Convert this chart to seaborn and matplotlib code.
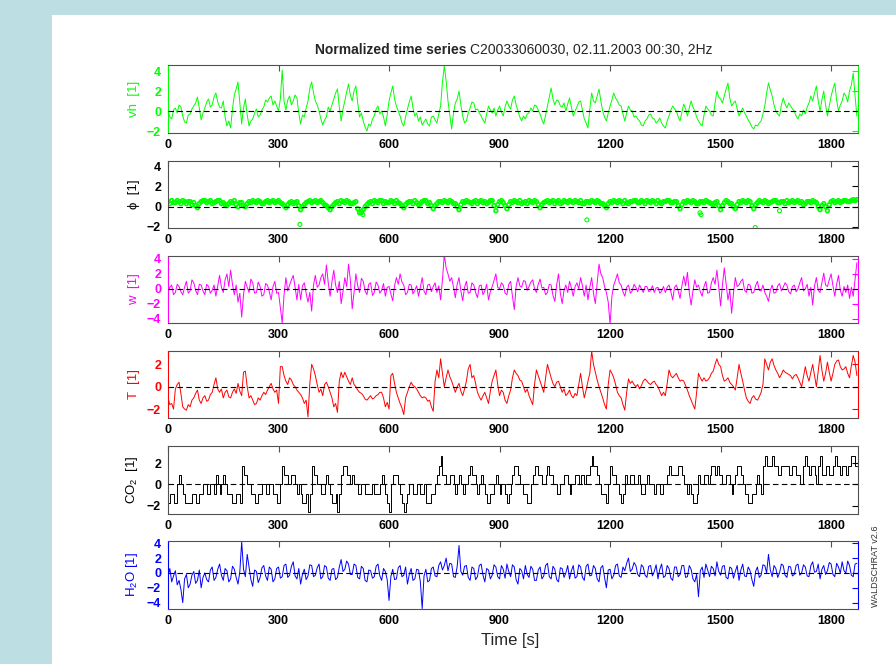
#!/usr/bin/env python
"""
Normalized time series panels (vh, phi, w, T, CO2, H2O) over a 30 min run.
Values read off the reference picture, one value every 5 s.
"""
# %% import packages
import matplotlib.pyplot as plt
import matplotlib.patches as mpatches
import numpy as np
import seaborn as sns

# %% data (5 s step, one row = 100 s)
t_step = 5

vh = [0.0, -0.6, -0.8, 0.1, 0.3, -0.2, 0.6, 0.4, -0.5, -1.1, -1.2, -0.4, -0.3, 0.2, 0.5, 0.8, 1.4, 0.3, -0.9, -0.2,
      0.3, 0.9, 1.2, 0.4, 0.6, 1.4, 1.8, 0.9, 0.4, 0.3, 1.0, -0.6, -1.5, -1.0, -1.7, 0.2, 1.6, 2.2, 2.9, 0.8,
      -1.3, 0.3, 1.2, -0.4, -1.5, -1.0, -0.8, -0.2, 0.2, -0.6, -0.4, 0.1, 0.4, 1.1, 0.9, 1.3, 1.5, 0.6, 1.0, 0.5,
      0.0, 1.2, 4.1, 1.0, 0.1, 1.1, 1.5, 0.6, 1.0, 1.6, 1.3, -0.2, -1.3, -0.4, -0.6, 0.3, 1.0, 2.3, 2.9, 1.8,
      1.0, 0.6, 0.0, -0.8, -1.4, -0.9, -0.6, 0.4, 0.0, 0.6, 1.2, 1.8, 2.2, 0.4, -1.0, 0.2, 1.0, 1.9, 2.7, 1.6,
      1.0, 2.0, 2.5, 0.8, -0.6, -0.2, -1.0, -1.6, -2.0, -1.3, -1.5, -0.8, -0.5, 0.2, 0.5, -0.3, 0.0, -0.6, -1.5, -0.4,
      1.0, 1.8, 2.5, 1.2, 0.5, 0.0, -0.5, -1.2, -1.5, -0.6, 0.2, 0.9, 1.5, 0.3, -0.5, -0.2, -1.0, -0.6, -1.4, -1.1,
      -0.8, -1.3, -1.5, -0.6, -0.5, -0.9, -1.2, -0.3, 0.5, 2.9, 4.5, 3.0, 1.0, -0.4, -1.8, -0.2, 0.8, 1.2, 2.0, 0.6,
      -0.5, -1.2, -1.0, -0.2, 0.3, 0.9, 0.8, 0.1, 0.2, -0.2, -0.5, -0.9, -1.2, -0.3, 0.5, 0.1, -0.2, 0.3, -0.5, 0.1,
      0.5, -0.1, -0.5, 0.4, 1.0, 0.5, 0.2, 1.1, 1.5, 0.6, 0.0, -0.6, -1.0, -0.5, -0.8, -0.3, -0.2, 0.3, 0.0, 0.6,
      0.5, 0.1, -0.3, -0.9, -1.3, -0.4, 0.5, 1.4, 2.3, 1.2, 0.6, 1.1, 1.0, 0.5, 0.4, 0.8, 0.0, 0.7, 1.3, 0.4,
      -0.5, 0.0, 0.4, 0.9, 1.0, 0.1, -0.8, -1.2, -1.7, 0.2, 1.8, 1.0, 0.8, 1.5, 2.2, 1.0, 0.0, -0.6, -1.0, -0.2,
      0.5, 1.1, 1.8, 1.3, 1.0, 0.6, 0.5, -0.3, -1.0, -0.2, 0.5, 0.1, 0.0, -0.6, -0.5, -0.8, -1.0, -1.4, -1.5, -1.0,
      -0.8, -0.4, -0.3, -0.7, -0.8, -1.2, -1.0, -0.7, -1.2, -1.5, -1.7, -1.0, -0.5, 0.1, 0.5, 0.2, 0.0, -0.6, -1.0, -0.1,
      0.7, 0.2, -0.5, 0.3, 1.0, 0.4, 0.0, -0.6, -1.0, -1.3, -1.5, -0.4, 0.5, 0.2, 0.0, -0.4, -0.5, 0.8, 2.0, 1.4,
      1.2, 0.8, 1.5, 2.2, 2.8, 1.3, 0.5, 0.8, 1.0, 0.2, -0.5, -0.1, 0.3, -0.2, -0.5, -0.9, -1.2, -1.6, -1.8, -1.4,
      -1.5, -1.2, -1.0, -0.3, 0.5, 1.8, 2.8, 2.1, 1.5, 0.6, 0.0, -0.3, -0.5, 0.6, 1.3, 0.7, 0.3, 0.8, 0.5, 0.2,
      0.0, -0.5, -0.8, -0.3, -0.5, 0.1, -0.3, 0.4, 0.8, 1.5, 1.0, 1.8, 2.5, 1.0, 0.0, 1.1, 2.0, 0.6, -0.5, 0.5,
      1.5, 2.2, 2.8, 1.1, 0.0, 0.6, 1.0, 1.8, 1.5, 0.9, 2.0, 2.6, 3.8, 1.5, -0.5]

phi = [0.5, 0.3, 0.6, 0.4, 0.4, 0.6, 0.5, 0.3, 0.6, 0.5, 0.3, 0.5, 0.5, 0.2, 0.4, 0.1, -0.1, 0.3, 0.5, 0.6,
       0.6, 0.4, 0.5, 0.6, 0.3, 0.4, 0.5, 0.6, 0.6, 0.3, 0.4, 0.2, 0.1, 0.3, 0.5, 0.4, 0.6, 0.2, 0.0, 0.4,
       0.4, 0.1, 0.0, 0.3, 0.5, 0.4, 0.6, 0.5, 0.4, 0.6, 0.5, 0.3, 0.3, 0.5, 0.6, 0.4, 0.5, 0.6, 0.4, 0.5,
       0.6, 0.4, 0.3, 0.1, -0.1, 0.2, 0.4, 0.5, 0.3, 0.4, 0.5, 0.1, -0.3, 0.0, 0.2, 0.4, 0.5, 0.6, 0.4, 0.5,
       0.6, 0.4, 0.5, 0.6, 0.4, 0.2, 0.1, -0.1, -0.3, 0.0, 0.2, 0.4, 0.5, 0.3, 0.6, 0.5, 0.4, 0.6, 0.5, 0.3,
       0.3, 0.4, 0.5, -0.2, -0.6, -0.5, -0.3, 0.0, 0.2, 0.4, 0.5, 0.3, 0.6, 0.5, 0.4, 0.6, 0.6, 0.3, 0.5, 0.4,
       0.4, 0.6, 0.5, 0.3, 0.6, 0.4, 0.3, 0.1, -0.1, 0.2, 0.4, 0.5, 0.5, 0.3, 0.6, 0.4, 0.2, 0.3, 0.5, 0.6,
       0.6, 0.3, 0.4, 0.1, -0.2, 0.1, 0.3, 0.5, 0.5, 0.4, 0.6, 0.5, 0.4, 0.6, 0.5, 0.3, 0.3, 0.0, -0.3, 0.2,
       0.5, 0.4, 0.6, 0.5, 0.4, 0.3, 0.5, 0.6, 0.3, 0.5, 0.6, 0.4, 0.5, 0.3, 0.4, 0.6, 0.6, 0.1, -0.4, 0.2,
       0.5, 0.6, 0.4, 0.1, -0.2, 0.2, 0.5, 0.4, 0.6, 0.5, 0.4, 0.6, 0.3, 0.4, 0.5, 0.3, 0.6, 0.5, 0.4, 0.6,
       0.5, 0.2, -0.1, 0.2, 0.4, 0.5, 0.6, 0.4, 0.5, 0.6, 0.3, 0.5, 0.6, 0.3, 0.4, 0.6, 0.5, 0.4, 0.6, 0.5,
       0.4, 0.6, 0.5, 0.4, 0.6, 0.3, 0.3, 0.5, 0.5, 0.4, 0.6, 0.5, 0.4, 0.6, 0.5, 0.3, 0.3, 0.1, -0.1, 0.3,
       0.5, 0.4, 0.6, 0.5, 0.4, 0.6, 0.5, 0.3, 0.6, 0.4, 0.3, 0.5, 0.5, 0.6, 0.6, 0.4, 0.4, 0.6, 0.5, 0.3,
       0.6, 0.5, 0.4, 0.6, 0.5, 0.3, 0.6, 0.4, 0.3, 0.5, 0.5, 0.6, 0.6, 0.4, 0.4, 0.5, 0.5, 0.1, -0.2, 0.2,
       0.5, 0.4, 0.6, 0.5, 0.4, 0.6, 0.5, 0.3, 0.3, 0.5, 0.5, 0.4, 0.6, 0.5, 0.4, 0.3, 0.2, 0.4, 0.5, 0.1,
       -0.3, 0.1, 0.4, 0.6, 0.5, 0.3, 0.3, 0.0, -0.2, 0.2, 0.5, 0.4, 0.6, 0.5, 0.4, 0.6, 0.5, 0.1, -0.2, 0.2,
       0.4, 0.6, 0.5, 0.4, 0.6, 0.5, 0.3, 0.4, 0.5, 0.6, 0.6, 0.4, 0.4, 0.5, 0.5, 0.3, 0.6, 0.4, 0.5, 0.6,
       0.4, 0.5, 0.6, 0.4, 0.5, 0.2, 0.3, 0.5, 0.5, 0.4, 0.6, 0.5, 0.4, 0.0, -0.3, 0.1, 0.3, 0.0, -0.4, 0.2,
       0.5, 0.6, 0.4, 0.5, 0.6, 0.4, 0.5, 0.6, 0.6, 0.5, 0.5, 0.6, 0.7, 0.6, 0.7]
# single stray phi samples
phi_odd_t = [358, 525, 529, 1137, 1444, 1447, 1594, 1660]
phi_odd = [-1.75, -0.6, -0.8, -1.3, -0.6, -0.8, -2.05, -0.4]

w = [-0.5, 0.2, 0.5, -0.8, -0.5, 0.6, 0.3, -0.4, -0.8, 0.2, 1.0, -0.6, -0.3, 1.2, 0.8, -0.2, -0.8, 0.6, 0.5, -0.3,
     -0.8, 0.6, 0.3, -0.6, -0.2, 0.5, -1.0, 0.4, 1.8, 0.2, -0.5, 1.2, 2.0, 0.3, 2.5, 0.6, -0.8, 0.5, -1.8, -0.6,
     -3.8, -0.8, 1.0, 0.2, -0.5, 1.3, 0.8, -0.6, -0.5, 0.9, 0.3, -1.0, -0.8, 0.7, 0.5, -0.4, -1.5, 0.3, 1.0, -0.6,
     -0.5, -2.5, -4.6, -0.8, 1.5, -0.3, 0.5, 1.2, 1.8, 0.2, -1.5, 0.6, -1.5, 0.4, 0.8, -0.6, -1.8, -0.5, -3.0, 0.5,
     1.8, 0.2, 0.5, 1.5, 2.0, 0.6, 3.2, 0.8, -1.0, 0.9, 2.5, 0.5, -0.5, 1.0, -2.0, -0.4, 1.5, 0.3, 3.3, 1.2,
     -2.7, -0.5, 2.0, 0.4, -0.5, 1.4, 1.0, -0.3, -0.8, 0.6, 0.8, -0.9, -0.5, 0.9, 0.5, -0.6, -0.2, 0.7, -1.0, 0.2,
     0.3, -0.7, -1.6, 0.4, 1.5, 0.6, 2.0, 0.9, 0.5, -0.8, -0.5, 0.6, 0.5, -0.7, -0.2, 0.4, -1.0, 0.2, 1.5, -0.3,
     -0.8, 0.5, 0.6, -0.4, 0.3, 0.8, -0.5, 0.4, -1.5, 1.2, 4.6, 2.8, 2.0, 1.0, 1.5, 0.2, -1.2, 0.6, 1.5, -0.3,
     -1.6, 0.2, 1.0, -0.6, -0.5, 0.8, 0.5, -0.5, -1.2, 0.4, 0.5, -0.8, -0.3, 0.6, -1.5, -0.4, 0.3, 1.1, 2.0, 0.2,
     0.0, 0.8, 0.5, -0.6, -0.8, 0.6, 1.0, -1.0, -2.8, 0.3, 1.5, 0.4, 0.2, 1.1, 1.0, -0.2, 0.3, 0.9, 1.2, 0.0,
     -0.5, 0.6, 1.3, 0.1, 0.2, -0.8, -0.5, 0.6, 0.5, -0.9, -1.7, 0.5, 2.0, -0.6, -2.0, -0.2, 0.5, -0.5, 1.0, 0.1,
     -1.0, 0.3, 0.8, 0.0, 1.5, 0.4, -1.0, 0.5, -1.5, 0.2, 1.5, -0.6, -2.0, 0.8, 3.3, 2.0, 1.5, 0.3, -0.5, -1.8,
     -4.8, -1.0, 0.5, 1.2, 2.0, 0.8, 0.5, -0.4, -1.0, 0.2, 0.5, -0.6, -0.3, 0.6, 0.2, -0.4, 0.5, 0.0, -0.5, 0.3,
     0.3, -0.4, -0.2, 0.4, -0.5, 0.1, 0.2, -0.6, -0.3, 0.3, -0.5, 0.2, 0.5, -0.4, -1.5, 0.2, 0.5, -0.3, -1.3, 0.4,
     1.7, 0.4, 2.2, -0.5, -2.2, -0.3, 1.2, 0.2, 0.5, -0.4, -1.0, 0.3, 1.0, -0.6, -0.5, 0.8, 1.5, 0.6, 2.5, 0.2,
     -2.3, 0.5, 2.8, 0.6, -1.5, -0.2, -3.3, -0.6, 1.5, 0.3, 0.5, 1.0, 1.3, -0.2, -0.5, 0.6, 0.5, -0.6, -0.5, 0.4,
     1.0, -0.2, -0.3, 0.5, -0.5, -1.0, -1.7, -0.2, 0.5, -0.6, -0.5, 0.4, 0.7, -0.3, 0.2, 0.8, 0.5, -0.4, -0.7, 0.3,
     0.5, -0.4, 0.0, 0.8, 1.5, -0.3, 0.0, 0.6, -1.0, 0.2, -2.2, 0.4, 1.5, -0.2, -0.5, 0.8, 2.1, 0.5, 0.3, 1.2,
     2.0, 0.4, -1.0, 0.6, 1.8, -0.2, -1.0, 0.3, -0.5, 0.5, -1.3, 0.2, -1.0, 1.2, 3.5]

temp = [-1.0, -1.6, -1.5, -2.0, -0.2, 0.2, 0.4, -0.6, -1.8, -2.0, -2.1, -1.6, -1.8, -1.2, -1.0, -0.6, -0.3, -1.2, -1.5, -1.0,
        -0.8, -1.3, -1.2, -0.7, -0.5, 0.2, 0.8, -0.2, -0.5, -0.2, -1.0, -0.5, -0.3, -0.9, -1.0, -0.5, -0.2, -0.6, 0.3, -0.4,
        -0.8, 1.3, 1.4, 0.0, -1.0, -0.8, -1.2, -1.6, -1.5, -1.0, -1.2, -0.8, -0.5, -0.7, -0.3, 0.0, 0.3, -0.2, -0.5, -0.3,
        -1.5, 1.8, 1.8, 1.0, 0.5, 0.2, 0.8, 0.6, 0.2, 0.0, -0.3, -0.5, -0.7, -1.0, -1.5, -1.2, -2.7, 0.3, 2.0, 1.6,
        1.0, 0.2, -0.5, -0.2, -0.8, 0.2, 0.4, 0.0, -0.5, -1.0, -1.8, -1.5, -2.3, 0.5, 1.3, 0.8, 1.3, 0.9, 0.5, 0.2,
        0.8, 0.2, 0.0, -0.3, -0.5, -0.6, -0.8, -1.1, -1.2, -1.0, -0.8, -1.1, -1.0, -0.8, -0.7, -0.5, -0.5, -1.0, -1.8, -1.4,
        -2.0, 1.0, 1.2, 0.3, -0.5, -1.0, -1.5, -1.9, -2.5, -1.0, -0.5, 0.0, 0.4, 0.1, 0.0, -0.2, -0.5, -0.8, -1.0, -0.9,
        -1.0, -1.3, -1.2, -1.8, -2.2, 0.5, 1.5, 0.8, 2.5, 1.2, 0.0, 0.8, 1.5, 0.9, 0.5, 0.0, -0.5, 0.0, 0.3, -0.4,
        -0.8, -0.2, 0.5, 1.6, 2.0, 0.8, 1.0, 0.3, -0.5, -0.9, -1.2, -0.8, -0.5, -1.0, -1.5, -0.4, 0.5, 1.0, 1.5, 0.2,
        -0.8, -0.3, -0.5, -1.2, -1.5, -0.8, -0.3, 0.8, 1.5, 1.2, 1.0, 0.6, 0.5, 0.0, -0.5, -0.2, -0.8, -1.2, -1.6, 0.2,
        1.5, 1.0, 0.5, 0.0, -0.5, 0.8, 2.0, 1.4, 0.8, 0.3, 0.0, 0.4, 0.5, 0.0, -0.5, -0.2, -0.8, -0.6, -0.3, -0.8,
        -1.0, -0.6, -0.8, 0.2, 1.2, 0.0, -1.0, -0.3, 0.5, 1.2, 3.2, 2.0, 1.3, 0.6, 0.0, -0.5, -1.0, -1.6, -2.0, 0.2,
        1.5, 1.2, 0.8, 0.2, -0.5, -0.8, -1.0, -1.6, -2.1, -0.5, 0.7, 0.3, 0.5, 0.2, 0.0, 0.2, -0.2, 0.1, 0.5, 0.7,
        0.5, 0.3, 0.2, 0.4, 0.5, 0.2, 0.0, -0.4, -0.8, -0.5, -0.8, 0.3, 1.5, 1.0, 0.8, 1.0, 1.2, 0.8, 0.5, 0.6,
        0.5, 0.1, -0.3, -0.8, -1.2, -1.6, -2.0, -0.5, 1.2, 0.8, 0.5, 0.8, 0.5, 0.6, 0.8, 1.2, 1.4, 2.0, 2.5, 2.0,
        1.8, 1.0, 0.5, 0.6, 0.8, 0.4, 0.2, 0.0, -0.3, 0.8, 2.0, 1.2, 0.5, -0.3, -1.0, -1.3, -1.5, -1.0, -0.8, -1.1,
        -1.2, -0.9, -0.5, 0.2, 2.5, 2.0, 1.5, 2.2, 2.5, 1.9, 1.5, 1.2, 0.8, 1.1, 1.5, 1.3, 1.2, 1.1, 1.0, 0.7,
        1.0, 1.1, 0.8, 0.4, 0.0, 0.9, 1.8, 1.0, 0.5, 1.3, 2.0, 1.0, 0.0, 1.4, 2.8, 1.5, 0.5, 1.2, 2.2, 1.3,
        0.5, 1.2, 2.0, 2.3, 2.4, 1.8, 1.5, 1.6, 1.8, 1.2, 0.8, 1.9, 2.8, 2.2, 1.0]

# CO2 comes in discrete steps of co2_res
co2_res = 0.88
co2_lvl = [-2, -1, -1, -2, -2, 0, 1, 0, -1, -2, -2, -2, -2, -1, -1, -2, -2, -1, -1, 0,
           0, -1, -1, 0, 0, -1, 1, 0, -1, 0, 1, 0, -1, -1, -1, -2, -2, -1, -1, -2,
           2, 1, 1, 0, 0, -1, -1, -2, -2, -1, -1, 0, 0, -1, -1, 0, 0, -1, -1, -2,
           -2, 0, 2, 1, 1, 0, 0, 1, 1, 0, -1, 0, -1, -2, -2, -1, -3, -1, 2, 1,
           1, 0, 0, -1, -1, 0, 1, 0, -1, -2, -2, -1, -3, -1, 1, 2, 2, 1, 1, 0,
           1, 0, 0, -1, -1, 0, 0, -1, -1, -1, -1, 0, -1, -1, -1, 0, 1, 0, -1, -2,
           -3, 0, 1, 1, 1, 0, -1, -2, -3, -2, -1, 0, 0, -1, -1, 0, 0, -1, -1, 0,
           -2, -2, -2, -1, -1, 0, 1, 2, 3, 1, 1, 0, 0, 1, 1, 0, -1, 0, 1, 0,
           -1, 0, 0, 1, 2, 1, 1, 0, -1, 0, 1, 0, -1, -2, -2, -1, -1, 0, 1, 0,
           -1, 0, 0, -1, -2, -1, 0, 1, 2, 2, 1, 0, 0, -1, -1, -2, -2, 0, 1, 2,
           2, 1, 1, 0, 0, 1, 2, 1, 1, 0, 0, -1, -1, 0, 0, 1, 1, 0, -1, 0,
           0, 1, 1, 0, 1, 1, 0, 1, 1, 2, 3, 2, 2, 1, 0, -1, -1, -1, -2, 0,
           2, 1, 1, 0, 0, -1, -2, -1, 1, 0, 0, 1, 1, 0, 0, 1, 0, -1, -1, 0,
           1, 0, 0, 0, -1, 0, 0, -1, -1, 0, 0, 1, 2, 1, 1, 1, 1, 2, 2, 1,
           0, 0, -1, 0, -1, -2, -2, -1, 1, 0, 0, 1, 1, 0, 1, 2, 2, 1, 2, 1,
           1, 0, 0, 1, 1, 0, -1, 0, 1, 2, 2, 1, 0, -1, -1, -2, -2, -1, -1, 0,
           1, 0, -1, 2, 3, 2, 2, 2, 3, 2, 2, 1, 1, 2, 2, 2, 2, 1, 1, 2,
           2, 1, 1, 0, 0, 2, 3, 2, 1, 2, 2, 1, 0, 2, 3, 1, 1, 2, 2, 1,
           1, 2, 3, 2, 2, 1, 2, 2, 1, 2, 2, 3, 3, 2, 2]

h2o = [-0.5, 0.6, -1.2, -0.4, 0.3, -1.6, -1.0, -2.2, -4.0, -0.8, -0.2, -2.0, -1.5, -0.3, 0.2, -1.4, -1.0, 0.4, -2.0, -0.6,
       0.0, -0.9, -1.2, 0.4, 0.8, -1.0, -0.6, 0.5, 1.2, -0.3, -1.0, 0.6, 0.3, -1.2, -0.8, 0.9, 0.5, -0.6, -1.5, 0.2,
       4.2, 0.5, -0.5, 2.5, 0.8, -0.9, -1.8, 0.4, 0.2, -1.3, -0.6, 0.7, 1.0, -0.4, -1.0, 0.8, 0.5, -1.2, -0.8, 0.6,
       0.8, -0.7, -0.5, 1.0, 1.2, -0.6, -0.3, 0.9, 1.5, -0.4, -0.8, 0.6, -1.5, -0.2, 0.5, -0.9, -0.4, 1.1, 1.0, -0.5,
       -0.3, 0.7, 1.2, -0.8, -0.5, 1.0, 0.8, -0.7, -1.0, 0.5, 0.6, -0.9, -0.6, 0.8, 1.8, 0.2, 0.5, 1.6, 1.2, -0.2,
       -0.2, 1.2, 1.0, -0.6, -0.8, 0.9, 0.6, -1.0, -1.2, 0.4, 0.3, -0.7, -0.5, 0.9, 1.2, -0.4, -1.0, 0.6, 0.2, -0.9,
       -3.7, -0.5, 0.5, -0.9, -0.8, 0.7, 1.0, -0.5, -0.3, 0.8, -1.5, -0.2, 0.6, -1.0, -0.8, 0.5, 0.4, -1.2, -4.8, -0.4,
       0.5, -1.2, -1.0, 0.6, 0.8, -0.4, -0.5, 1.0, 1.5, 0.4, 1.0, 2.0, 0.3, 1.3, 1.2, -0.5, -0.6, 0.9, 3.7, 0.2,
       -0.3, 0.9, 1.0, -0.6, -1.0, 0.8, 0.6, -0.9, -0.5, 1.0, 1.2, -0.3, -1.2, 0.6, 0.4, -0.8, -0.3, 1.1, 0.8, -0.5,
       -0.8, 1.0, 0.5, -0.7, 1.2, 0.2, -0.5, 1.1, 0.8, -0.9, -1.5, 0.6, 0.3, -0.8, 1.0, -0.2, -0.6, 0.9, 0.5, -1.0,
       -1.0, 0.4, 0.8, -0.8, -0.4, 1.0, 1.3, -0.5, -0.8, 0.9, 0.5, -0.9, -1.2, 0.7, 0.6, -0.6, 0.0, 1.0, -0.8, 0.3,
       1.0, -0.7, -0.5, 1.1, 0.8, -0.6, -1.0, 0.9, 1.2, -0.4, -0.3, 1.0, 0.6, -0.8, -1.2, 0.7, 1.0, -0.6, -2.0, 0.4,
       0.5, -0.8, -0.3, 1.0, 1.2, -0.4, -0.6, 0.8, 0.3, 1.3, 2.0, 0.2, 0.5, 1.4, 1.0, -0.2, -0.5, 1.1, 0.8, -0.3,
       -0.6, 0.9, 1.0, -0.4, 0.2, 1.1, -0.8, 0.5, 1.2, -0.6, -0.4, 1.0, 0.6, -0.7, -1.0, 0.8, 0.8, -0.5, -0.2, 1.0,
       1.0, -0.6, -0.5, 1.0, 0.5, -0.8, -1.2, -0.2, -3.2, 0.3, 0.8, -0.6, 1.2, 0.4, -0.5, 0.9, 0.6, -0.4, 1.5, 0.2,
       -0.3, 0.9, 1.0, -0.6, -0.8, 0.8, 0.6, -0.7, 0.2, 1.0, -1.0, 0.4, 1.2, -0.4, -0.5, 0.8, 0.3, -0.9, -1.8, 0.2,
       0.8, -0.6, -0.3, 1.1, 1.0, 0.0, 2.5, 0.4, -0.5, 1.0, 0.6, -0.6, 0.0, 1.2, 1.0, -0.3, -0.6, 0.9, 0.8, -0.4,
       -0.2, 1.0, 1.2, -0.3, 0.0, 1.1, 0.8, -0.4, -0.5, 1.0, 1.5, 0.1, 0.2, 1.2, -0.8, 0.5, 1.0, -0.2, 0.3, 1.4,
       1.2, -0.2, -0.5, 1.3, 0.8, 0.0, 1.5, 0.3, 0.0, 1.6, 1.0, -0.3, -0.5, 1.2, 1.3]

x_ticks = [0, 300, 600, 900, 1200, 1500, 1800]


def times(values):
    return np.arange(len(values)) * t_step


# %% figure setup
sns.set_style('white')
plt.rcParams['font.family'] = ['Liberation Sans', 'DejaVu Sans']
plt.rcParams['mathtext.default'] = 'regular'

fig = plt.figure(figsize=(8.96, 6.64), dpi=100, facecolor='#bddee3')
# white sheet behind the panels
fig.patches.append(mpatches.Rectangle((52 / 896, 0), 1, 1 - 15 / 664,
                                      transform=fig.transFigure,
                                      facecolor='white', edgecolor='none', zorder=-10))

green, magenta, red, blue, black = '#00ff00', '#ff00ff', '#ff0000', '#0000ff', '#000000'
left, width = 168 / 896, 690 / 896
# (top px, bottom px, ylabel, color, ylim, yticks)
panels = [
    (65, 133, 'vh  [1]', green, (-2.2, 4.6), [-2, 0, 2, 4]),
    (161, 228, 'ϕ  [1]', black, (-2.1, 4.5), [-2, 0, 2, 4]),
    (256, 323, 'w  [1]', magenta, (-4.6, 4.4), [-4, -2, 0, 2, 4]),
    (351, 418, 'T  [1]', red, (-2.8, 3.2), [-2, 0, 2]),
    (446, 514, 'CO$_2$  [1]', black, (-2.8, 3.6), [-2, 0, 2]),
    (541, 609, 'H$_2$O [1]', blue, (-4.85, 4.3), [-4, -2, 0, 2, 4]),
]

axes = []
for top, bot, label, col, ylim, yt in panels:
    ax = fig.add_axes([left, 1 - bot / 664, width, (bot - top) / 664])
    ax.set_facecolor('white')
    ax.set_xlim(0, 1873)
    ax.set_ylim(*ylim)
    ax.set_xticks(x_ticks)
    ax.set_yticks(yt)
    ax.axhline(0, color='k', ls=(0, (5, 3)), lw=0.8, zorder=5)
    for side in ['top', 'bottom']:
        ax.spines[side].set_color('#505050')
    for side in ['left', 'right']:
        ax.spines[side].set_color(col if col != black else '#505050')
    ax.tick_params(direction='in', length=4, width=0.8, top=True, right=True,
                   labeltop=False, labelright=False, labelsize=9)
    ax.tick_params(axis='x', colors='#505050', labelcolor='black', pad=4)
    ax.tick_params(axis='y', colors=col, pad=5)
    for lab in ax.get_xticklabels() + ax.get_yticklabels():
        lab.set_fontweight('bold')
    ax.set_ylabel(label, color=col, fontsize=9.5)
    ax.yaxis.set_label_coords(-0.041, 0.5)
    axes.append(ax)

# %% draw series
line_kw = dict(estimator=None, lw=0.7, legend=False)
sns.lineplot(x=times(vh), y=vh, ax=axes[0], color=green, **line_kw)
sns.scatterplot(x=times(phi), y=phi, ax=axes[1], marker='o', s=7,
                facecolor='none', edgecolor=green, linewidth=1.2, legend=False)
sns.scatterplot(x=phi_odd_t, y=phi_odd, ax=axes[1], marker='o', s=8,
                facecolor='none', edgecolor=green, linewidth=0.8, legend=False)
sns.lineplot(x=times(w), y=w, ax=axes[2], color=magenta, **line_kw)
sns.lineplot(x=times(temp), y=temp, ax=axes[3], color=red, **line_kw)
sns.lineplot(x=times(co2_lvl), y=np.array(co2_lvl) * co2_res, ax=axes[4], color=black,
             drawstyle='steps-post', **line_kw)
sns.lineplot(x=times(h2o), y=h2o, ax=axes[5], color=blue, **line_kw)

for ax in axes:
    ax.set_xlabel('')

# %% texts
fig.text(466 / 896, 1 - 50 / 664, 'Normalized time series', ha='right', va='center',
         fontsize=10, fontweight='bold')
fig.text(470 / 896, 1 - 50 / 664, 'C20033060030, 02.11.2003 00:30, 2Hz', ha='left',
         va='center', fontsize=10)
fig.text(510 / 896, 1 - 640 / 664, 'Time [s]', ha='center', va='center', fontsize=12)
fig.text(875 / 896, 1 - 566 / 664, 'WALDSCHRAT v2.6', rotation=90, ha='center',
         va='center', fontsize=6.5, color='#303030')

fig.savefig('out.png', dpi=100, facecolor=fig.get_facecolor())
